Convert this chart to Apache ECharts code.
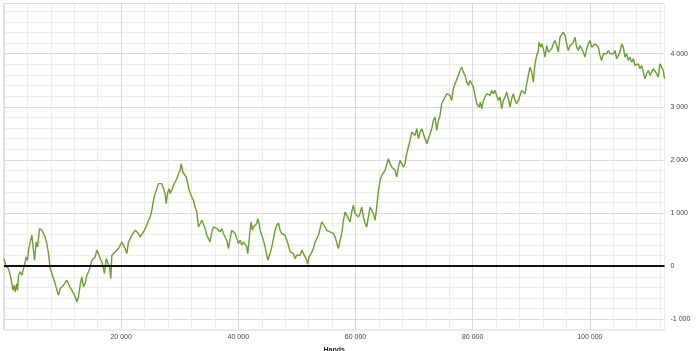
<!DOCTYPE html>
<html>
<head>
<meta charset="utf-8">
<script src="https://cdn.jsdelivr.net/npm/echarts@6/dist/echarts.min.js"></script>
<style>html,body{margin:0;padding:0;background:#fff;}#c{width:700px;height:351px;}</style>
</head>
<body>
<div id="c"></div>
<script>
const hands = [
0,35,376,774,1058,1343,1513,1741,1912,2196,2310,2480,2765,3049,3334,3618,3789,4016,4187,4471,4756,5040,5211,5495,5723,6064,6462,6746,7031,7315,7600,7884,8168,8453,8737,9022,9306,9590,9875,10159,10444,10728,11012,11297,11581,11866,12150,12434,12719,13003,13288,13572,13856,14141,14425,14710,14994,15278,15563,15847,16132,16416,16700,16985,17155,17440,17667,18009,18236,18407,18691,18976,19260,19545,19829,20113,
20398,20682,20967,21251,21536,21820,22104,22389,22673,22958,23242,23526,23811,24095,24380,24664,24948,25233,25517,25802,26086,26370,26655,26939,27224,27508,27679,27963,28191,28361,28646,28930,29214,29499,29783,30068,30238,30523,30807,31091,31376,31603,31831,32058,32343,32627,32912,33196,33480,33765,34049,34334,34618,34902,35187,35471,35756,36040,36324,36609,36893,37178,37462,37746,38031,38315,38600,38884,39168,39453,39737,40022,40306,
40592,40876,41160,41445,41615,41843,42014,42184,42412,42582,42867,43151,43322,43549,43720,44004,44289,44573,44858,45028,45256,45426,45711,45995,46280,46564,46848,47133,47417,47702,47986,48270,48555,48839,49124,49408,49692,49977,50261,50546,50830,51114,51399,51683,51854,52081,52423,52821,53105,53390,53674,53958,54243,54527,54812,55096,55380,55665,55949,56234,56518,56802,57087,57371,57656,57940,58224,58509,58793,59078,59362,59646,59931,
60216,60501,60785,61070,61354,61638,61923,62207,62492,62776,63060,63345,63629,63914,64198,64482,64767,65051,65336,65620,65904,66189,66473,66758,67042,67326,67611,67895,68180,68464,68748,69033,69317,69602,69886,70170,70455,70739,71024,71308,71592,71877,72161,72446,72730,73014,73299,73583,73868,74152,74436,74721,75005,75290,75574,75858,76143,76427,76712,76996,77280,77565,77849,78134,78418,78702,78987,79271,79556,79840,80124,80409,80693,80978,
81092,81319,81547,81831,82115,82400,82684,82969,83253,83537,83822,84106,84391,84675,84959,85244,85528,85813,86097,86381,86666,86950,87235,87519,87803,88088,88372,88657,88941,89225,89510,89794,90079,90363,90647,90932,91216,91330,91614,91785,92069,92354,92638,92923,93207,93491,93776,94060,94345,94629,94913,95198,95482,95767,96051,96335,96620,96904,97189,97473,97757,98042,98326,98611,98895,99179,99464,99748,100033,
100317,100602,100886,101171,101455,101739,102024,102308,102593,102877,103161,103446,103730,104015,104299,104583,104868,105152,105437,105721,106005,106290,106574,106859,107143,107427,107712,107996,108281,108565,108849,109134,109418,109703,109987,110271,110556,110840,111125,111409,111693,111978,112262,112547,112740
];
const bigBlinds = [
144,163,-13,-44,-169,-326,-451,-357,-482,-326,-451,-169,-106,-169,-44,81,175,113,301,457,583,614,113,457,363,708,677,645,551,426,238,-44,-138,-169,-326,-451,-545,-420,-388,-357,-326,-263,-263,-401,-451,-514,-576,-670,-576,-357,-200,-388,-326,-169,-106,-13,113,81,175,301,238,144,81,-44,-138,144,81,-13,-232,207,175,269,238,332,395,457,
426,332,238,457,520,583,551,677,645,614,551,520,645,708,771,865,927,1053,1241,1366,1460,1554,1585,1554,1585,1366,1178,1397,1460,1366,1429,1523,1585,1648,1742,1805,1930,1773,1805,1679,1554,1429,1460,1303,1241,1115,1021,739,771,865,833,708,583,520,457,645,739,771,708,739,645,708,614,551,489,332,520,677,677,614,520,426,489,
395,457,489,363,238,489,677,833,677,739,708,802,896,802,677,583,489,363,207,113,81,238,363,520,677,771,814,677,614,645,583,489,395,269,301,238,144,207,238,207,301,238,175,113,38,175,238,332,457,489,583,708,833,802,739,677,708,645,677,614,551,520,332,489,614,865,1021,990,896,833,1021,1147,990,
959,927,990,1115,927,802,739,927,1115,1084,990,865,1115,1428,1617,1710,1742,1805,1836,2024,1930,1867,1898,1805,1679,1867,1992,2024,1867,1930,2118,2243,2368,2525,2556,2462,2588,2400,2525,2588,2494,2400,2306,2400,2494,2588,2744,2807,2556,2744,2838,3058,3026,3183,3246,3277,3214,3120,3340,3434,3465,3590,3684,3747,3653,3590,3465,3402,3496,3434,3371,3340,3058,3089,
2995,3089,2964,3120,3089,3246,3277,3214,3308,3246,3308,3214,3120,3183,2964,3120,3183,3277,3152,2995,3152,3246,3120,3058,3120,3152,3308,3340,3246,3434,3590,3747,3653,3465,3810,3966,4060,4217,4123,4185,4092,3935,4154,4029,4060,4092,4185,4248,4154,4029,4311,4342,4405,4342,4185,4060,4154,4123,4217,4311,4123,4060,4154,4123,4029,3935,4092,4185,4248,
4123,4092,4185,4154,4123,3966,3872,3998,4029,3998,4060,3998,3966,3998,4060,3904,3935,4029,4185,4123,3935,3998,3872,3935,3841,3904,3778,3747,3810,3716,3778,3653,3528,3622,3684,3590,3653,3716,3684,3622,3559,3810,3747,3684,3528
];
const xName = 'Hands';
const yName = 'Big Blinds';

const fmt = v => String(v).replace(/\B(?=(\d{3})+(?!\d))/g, ' ');
const points = hands.map((h, i) => [h, bigBlinds[i]]);

const chart = echarts.init(document.getElementById('c'), null, {renderer: 'canvas'});
chart.setOption({
  animation: false,
  backgroundColor: '#ffffff',
  grid: {left: 4, right: 35.5, top: 3.5, bottom: 21, containLabel: false, outerBoundsMode: 'none',
    show: true, borderColor: '#d4d4d4', borderWidth: 1, backgroundColor: '#ffffff'},
  xAxis: {
    type: 'value', min: 0, max: 112750, interval: 4000,
    name: xName, nameLocation: 'middle', nameGap: 17,
    nameTextStyle: {fontFamily: 'Liberation Sans', fontSize: 7, fontWeight: 'bold', color: '#222'},
    axisLine: {show: false},
    axisTick: {show: true, length: 2, lineStyle: {color: '#dddddd'}},
    axisLabel: {margin: 4, fontFamily: 'Liberation Sans', fontSize: 7, color: '#444',
      formatter: v => (v > 0 && v % 20000 === 0) ? fmt(v) : ''},
    splitLine: {show: true, lineStyle: {color: ['#dadada', '#ececec', '#ececec', '#ececec', '#ececec'], width: 1}}
  },
  yAxis: {
    type: 'value', position: 'right', min: -1200, max: 4944, interval: 200,
    name: yName, nameLocation: 'middle', nameGap: 38, nameRotate: 90,
    nameTextStyle: {fontFamily: 'Liberation Sans', fontSize: 7, fontWeight: 'bold', color: '#222'},
    axisLine: {show: false},
    axisTick: {show: false},
    axisLabel: {margin: 6, fontFamily: 'Liberation Sans', fontSize: 7, color: '#444',
      formatter: v => (v % 1000 === 0) ? fmt(v) : ''},
    splitLine: {show: true, lineStyle: {color: ['#ececec', '#dadada', '#ececec', '#ececec', '#ececec'], width: 1}}
  },
  series: [{
    type: 'line', data: points, showSymbol: false, symbol: 'none',
    lineStyle: {color: '#6a9e34', width: 1.4},
    markLine: {silent: true, symbol: 'none', label: {show: false},
      lineStyle: {color: '#111', width: 2, type: 'solid'},
      data: [{yAxis: 0}]}
  }]
});
</script>
</body>
</html>
